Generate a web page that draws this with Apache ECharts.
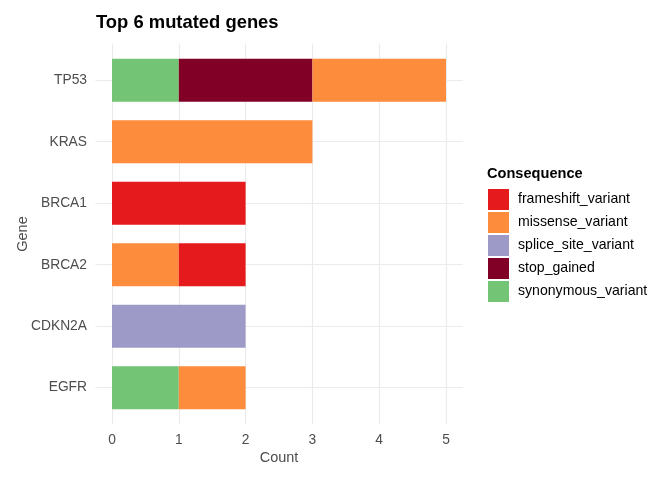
<!DOCTYPE html>
<html lang="en">
<head>
    <meta charset="UTF-8">
    <title>Top 6 mutated genes</title>
    <script src="https://cdn.jsdelivr.net/npm/echarts@6/dist/echarts.min.js"></script>
    <style>
        body { margin: 0; background: #ffffff; }
        #chart { width: 672px; height: 480px; }
    </style>
</head>
<body>
<div id="chart"></div>
<script>
    // data
    var genes = ['TP53', 'KRAS', 'BRCA1', 'BRCA2', 'CDKN2A', 'EGFR'];
    var consequences = ['frameshift_variant', 'missense_variant', 'splice_site_variant', 'stop_gained', 'synonymous_variant'];
    var frameshift = [0, 0, 2, 1, 0, 0];
    var missense = [2, 3, 0, 1, 0, 1];
    var spliceSite = [0, 0, 0, 0, 2, 0];
    var stopGained = [2, 0, 0, 0, 0, 0];
    var synonymous = [1, 0, 0, 0, 0, 1];
    var countTicks = [0, 1, 2, 3, 4, 5];

    var colors = {
        frameshift_variant: '#E41A1C',
        missense_variant: '#FD8D3C',
        splice_site_variant: '#9E9AC8',
        stop_gained: '#800026',
        synonymous_variant: '#74C476'
    };
    var values = {
        frameshift_variant: frameshift,
        missense_variant: missense,
        splice_site_variant: spliceSite,
        stop_gained: stopGained,
        synonymous_variant: synonymous
    };

    var chart = echarts.init(document.getElementById('chart'));
    var gridColor = '#ebebeb';
    var textGrey = '#4d4d4d';
    var font = 'Liberation Sans, Arial, sans-serif';

    // gridlines drawn over the whole panel (ggplot pads the data range)
    var gridLines = [];
    countTicks.forEach(function (t) { gridLines.push({ xAxis: t }); });
    genes.forEach(function (g, i) { gridLines.push({ yAxis: i + 1 }); });

    var series = [{
        type: 'line',
        xAxisIndex: 1,
        yAxisIndex: 1,
        data: [],
        silent: true,
        z: 0,
        markLine: {
            silent: true,
            z: 0,
            symbol: 'none',
            label: { show: false },
            lineStyle: { color: gridColor, width: 1.1, type: 'solid' },
            data: gridLines
        }
    }];

    // ggplot stacks the last level first
    consequences.slice().reverse().forEach(function (c) {
        series.push({
            name: c,
            type: 'bar',
            stack: 'total',
            barWidth: '70%',
            xAxisIndex: 0,
            yAxisIndex: 0,
            itemStyle: { color: colors[c] },
            data: values[c],
            z: 3
        });
    });

    var option = {
        backgroundColor: '#ffffff',
        animation: false,
        textStyle: { fontFamily: font },
        title: [{
            text: 'Top 6 mutated genes',
            left: 91,
            top: 9,
            textStyle: { fontSize: 18.4, fontWeight: 'bold', color: '#000000', fontFamily: font }
        }, {
            text: 'Consequence',
            left: 482,
            top: 161,
            textStyle: { fontSize: 14.6, fontWeight: 'bold', color: '#000000', fontFamily: font }
        }],
        legend: {
            orient: 'vertical',
            left: 488,
            top: 189,
            padding: 0,
            itemWidth: 21,
            itemHeight: 21,
            itemGap: 2,
            icon: 'rect',
            data: consequences,
            textStyle: { fontSize: 14.1, color: '#000000', padding: [0, 0, 0, 4], fontFamily: font }
        },
        grid: [{
            left: 112, right: 226, top: 49.6, bottom: 61.6
        }, {
            left: 95.3, right: 209.3, top: 43.4, bottom: 55.6
        }],
        xAxis: [{
            type: 'value',
            gridIndex: 0,
            min: 0,
            max: 5,
            interval: 1,
            name: 'Count',
            nameLocation: 'middle',
            nameGap: 32,
            nameMoveOverlap: false,
            nameTextStyle: { fontSize: 14.5, color: textGrey },
            axisLine: { show: false },
            axisTick: { show: false },
            splitLine: { show: false },
            axisLabel: { fontSize: 13.8, color: textGrey, margin: 15 }
        }, {
            type: 'value',
            gridIndex: 1,
            min: -0.25,
            max: 5.25,
            show: false
        }],
        yAxis: [{
            type: 'category',
            gridIndex: 0,
            data: genes,
            inverse: true,
            name: 'Gene',
            nameLocation: 'middle',
            nameGap: 82,
            nameMoveOverlap: false,
            nameTextStyle: { fontSize: 14.5, color: textGrey },
            axisLine: { show: false },
            axisTick: { show: false },
            splitLine: { show: false },
            axisLabel: { fontSize: 13.8, color: textGrey, margin: 25 }
        }, {
            type: 'value',
            gridIndex: 1,
            min: 0.4,
            max: 6.6,
            inverse: true,
            show: false
        }],
        series: series
    };

    chart.setOption(option);
</script>
</body>
</html>
